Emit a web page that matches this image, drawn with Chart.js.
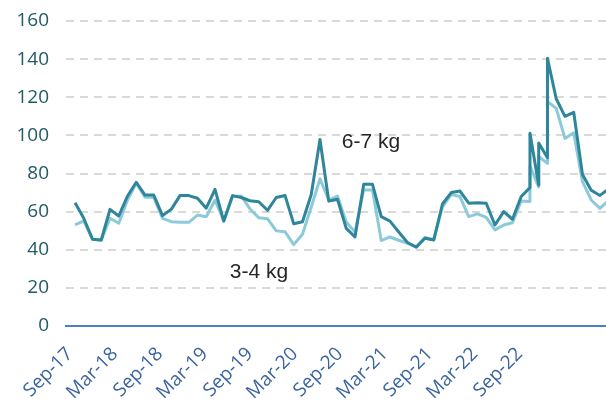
<!DOCTYPE html>
<html>
<head>
<meta charset="utf-8">
<script src="https://cdn.jsdelivr.net/npm/chart.js@4.4.1/dist/chart.umd.min.js"></script>
<style>
  html, body { margin: 0; padding: 0; background: #fff; }
  #wrap { width: 606px; height: 407px; position: relative; }
</style>
</head>
<body>
<div id="wrap"><canvas id="priceChart"></canvas></div>
<script>
// observation index; a few months carry two readings, so the index repeats
const period = [
  0, 1, 2, 3, 4, 5, 6, 7, 8, 9, 10, 11, 12, 13, 14, 15, 16, 17, 18, 19,
  20, 21, 22, 23, 24, 25, 26, 27, 28, 29, 30, 31, 32, 33, 34, 35, 36, 37, 38, 39,
  40, 41, 42, 43, 44, 45, 46, 47, 48, 49, 50, 51, 52, 52, 53, 53, 54, 54, 55, 56,
  57, 58, 59, 60, 61
];

const kg67 = [
  64.7, 56.5, 45.5, 45.1, 61.2, 57.7, 68.2, 75.4, 68.7, 68.7, 57.9, 61.2, 68.4, 68.4, 67.0, 61.8, 71.7, 55.0, 68.4, 67.4,
  65.7, 65.2, 60.7, 67.4, 68.5, 53.6, 54.7, 69.0, 97.8, 65.5, 66.5, 51.2, 46.7, 74.3, 74.3, 57.4, 55.0, 49.3, 43.8, 41.3,
  46.0, 45.1, 64.0, 70.0, 70.8, 64.4, 64.7, 64.4, 53.0, 60.0, 56.0, 67.9, 72.6, 101.1, 74.0, 96.0, 88.3, 140.4, 119.2, 110.0,
  112.1, 79.5, 71.2, 68.5, 72.0
];

const kg34 = [
  53.0, 55.1, 45.5, 45.0, 56.5, 53.9, 66.1, 75.0, 67.5, 67.5, 56.5, 54.7, 54.4, 54.4, 58.2, 57.3, 66.1, 55.1, 68.0, 68.2,
  61.4, 56.8, 56.3, 49.9, 49.5, 42.7, 48.1, 62.4, 77.2, 66.1, 68.2, 54.5, 49.3, 71.4, 71.4, 44.8, 46.7, 45.0, 43.4, 41.6,
  46.5, 45.3, 62.5, 69.0, 67.9, 57.4, 58.8, 57.0, 50.4, 53.0, 54.2, 65.6, 65.3, 84.0, 73.0, 88.9, 85.3, 117.7, 114.2, 98.4,
  101.4, 75.7, 66.1, 61.7, 66.0
];

const tickLabels = ['Sep-17', 'Mar-18', 'Sep-18', 'Mar-19', 'Sep-19', 'Mar-20',
                    'Sep-20', 'Mar-21', 'Sep-21', 'Mar-22', 'Sep-22'];

const yTicks = [0, 20, 40, 60, 80, 100, 120, 140, 160];

// series name labels, placed in data units
const seriesNotes = [
  { text: '6-7 kg', x: 30.5, y: 96.5 },
  { text: '3-4 kg', x: 17.7, y: 28.3 }
];

// where the date labels sit along the index axis
const tickStart = -0.6;
const tickStep = 5.143;

const toPoints = (ys) => ys.map((v, i) => ({ x: period[i], y: v }));

const notesPlugin = {
  id: 'seriesNotes',
  afterDatasetsDraw(chart) {
    const ctx = chart.ctx;
    const xs = chart.scales.x, ys = chart.scales.y;
    ctx.save();
    ctx.font = '21px "Liberation Sans", Arial, sans-serif';
    ctx.fillStyle = '#262626';
    ctx.textAlign = 'left';
    ctx.textBaseline = 'middle';
    seriesNotes.forEach(n => {
      ctx.fillText(n.text, xs.getPixelForValue(n.x), ys.getPixelForValue(n.y));
    });
    ctx.restore();
  }
};

const ctx = document.getElementById('priceChart').getContext('2d');

const myChart = new Chart(ctx, {
  type: 'line',
  data: {
    datasets: [
      {
        label: '6-7 kg',
        data: toPoints(kg67),
        borderColor: '#2f869a',
        borderWidth: 3,
        pointRadius: 0,
        tension: 0,
        borderJoinStyle: 'round'
      },
      {
        label: '3-4 kg',
        data: toPoints(kg34),
        borderColor: '#8ccada',
        borderWidth: 3,
        pointRadius: 0,
        tension: 0,
        borderJoinStyle: 'round'
      }
    ]
  },
  options: {
    responsive: true,
    maintainAspectRatio: false,
    animation: false,
    layout: { padding: { top: 21, right: 0, left: 0, bottom: 0 } },
    plugins: {
      legend: { display: false },
      tooltip: { enabled: false }
    },
    scales: {
      x: {
        type: 'linear',
        min: -1.03,
        max: 60.69,
        afterBuildTicks: (scale) => {
          scale.ticks = tickLabels.map((_, k) => ({ value: tickStart + k * tickStep }));
        },
        afterFit: (scale) => { scale.height = 81; },
        grid: { display: false, drawTicks: false },
        border: { display: true, color: '#4f81bd', width: 2 },
        ticks: {
          autoSkip: false,
          maxRotation: 45,
          minRotation: 45,
          padding: 17,
          color: '#3a64a0',
          font: { family: '"Open Sans", sans-serif', size: 19 },
          callback: (value, index) => tickLabels[index] || ''
        }
      },
      y: {
        min: 0,
        max: 160,
        afterBuildTicks: (scale) => {
          scale.ticks = yTicks.map(v => ({ value: v }));
        },
        afterFit: (scale) => {
          scale.width = 66;
          scale.paddingTop = 0;
          scale.paddingBottom = 0;
        },
        border: { display: false, dash: [8, 6] },
        grid: {
          drawTicks: false,
          lineWidth: 2,
          color: (c) => c.tick && c.tick.value === 0 ? 'rgba(0,0,0,0)' : '#d9d9d9'
        },
        ticks: {
          padding: 17,
          color: '#215a68',
          font: { family: '"Open Sans", sans-serif', size: 19 }
        }
      }
    }
  },
  plugins: [notesPlugin]
});
</script>
</body>
</html>
